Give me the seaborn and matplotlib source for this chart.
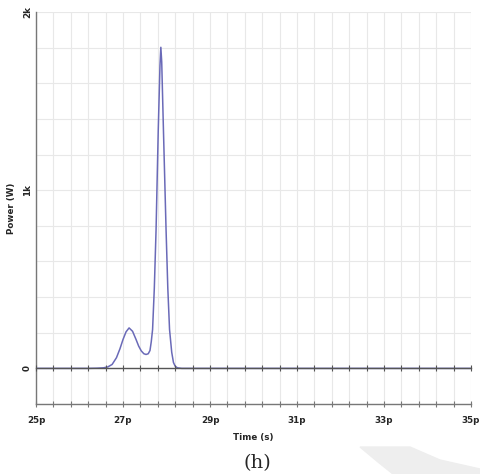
import matplotlib
matplotlib.use("Agg")
import matplotlib.pyplot as plt
import matplotlib.ticker as mticker
import matplotlib.transforms as mtransforms
from matplotlib.patches import Polygon
import numpy as np
import pandas as pd
import seaborn as sns

# pulse power trace (time in ps, power in W)
time_ps = [25.0, 26.2, 26.4, 26.55, 26.65, 26.75, 26.85, 26.93, 27.0, 27.07,
           27.14, 27.22, 27.30, 27.36, 27.42, 27.48, 27.53, 27.58, 27.62, 27.65,
           27.68, 27.72, 27.76, 27.81, 27.85, 27.87, 27.89, 27.93, 27.99, 28.03,
           28.07, 28.12, 28.16, 28.20, 28.25, 28.35, 35.0]
power_w = [0, 0, 1, 3, 8, 22, 60, 110, 162, 205,
           227, 208, 162, 125, 98, 82, 78, 82, 100, 150,
           218, 450, 777, 1335, 1700, 1802, 1720, 1335, 777, 450,
           218, 90, 33, 12, 3, 0, 0]

x_ticks = [25, 27, 29, 31, 33, 35]
x_ticklabels = ["25p", "27p", "29p", "31p", "33p", "35p"]
y_ticks = [0, 1000, 2000]
y_ticklabels = ["0", "1k", "2k"]

df = pd.DataFrame({"t": time_ps, "p": power_w})

sns.set_theme(style="white")
plt.rcParams["font.family"] = ["DejaVu Sans"]

fig = plt.figure(figsize=(4.8, 4.74), dpi=100)
ax = fig.add_axes([36 / 480, 70 / 474, 435 / 480, 392 / 474])

sns.lineplot(data=df, x="t", y="p", ax=ax, color="#6a6ab8", lw=1.1, zorder=4)

ax.set_xlim(25, 35)
ax.set_ylim(-200, 2000)

minor_x = mticker.FixedLocator(np.linspace(25, 35, 26))
ax.xaxis.set_major_locator(mticker.FixedLocator(x_ticks))
ax.xaxis.set_minor_locator(minor_x)
ax.yaxis.set_major_locator(mticker.FixedLocator(y_ticks))
ax.yaxis.set_minor_locator(mticker.MultipleLocator(200))
ax.set_xticklabels(x_ticklabels, fontsize=6.3, fontweight="bold")
ax.set_yticklabels(y_ticklabels, fontsize=6.3, fontweight="bold", rotation=90, va="center")

# nudge the last x label so it stays inside the figure
last = ax.get_xticklabels()[-1]
last.set_transform(last.get_transform() + mtransforms.ScaledTranslation(-4 / 100, 0, fig.dpi_scale_trans))

ax.grid(True, which="both", color="#e8e8e8", lw=0.8, zorder=0)
ax.set_axisbelow(True)

for side in ["top", "right"]:
    ax.spines[side].set_visible(False)
for side in ["left", "bottom"]:
    ax.spines[side].set_color("#777777")
    ax.spines[side].set_linewidth(1.0)

ax.tick_params(which="both", direction="inout", color="#777777", width=0.8)
ax.tick_params(which="major", length=5)
ax.tick_params(which="minor", length=4)
ax.tick_params(axis="x", which="major", pad=6)
ax.tick_params(axis="y", which="major", pad=0.5)

ax.set_xlabel("Time (s)", fontsize=6.3, fontweight="bold", labelpad=6)
ax.set_ylabel("Power (W)", fontsize=6.3, fontweight="bold", labelpad=5)

# zero line with its own tick marks
ax2 = ax.twiny()
ax2.set_xlim(ax.get_xlim())
for side in ["top", "right", "left"]:
    ax2.spines[side].set_visible(False)
ax2.spines["bottom"].set_position(("data", 0))
ax2.spines["bottom"].set_color("#555555")
ax2.spines["bottom"].set_linewidth(1.0)
ax2.xaxis.set_ticks_position("bottom")
ax2.xaxis.set_major_locator(minor_x)
ax2.tick_params(axis="x", direction="inout", length=4, width=0.8, color="#555555",
                labelbottom=False, labeltop=False)
ax2.grid(False)

fig.text(257 / 480, 1 - 463 / 474, "(h)", fontsize=14, family="DejaVu Serif",
         ha="center", va="center")

# light page artefact at the lower right
swoosh = Polygon([[360 / 480, 1 - 447 / 474], [410 / 480, 1 - 447 / 474],
                  [440 / 480, 1 - 460 / 474], [480 / 480, 1 - 469 / 474],
                  [480 / 480, 0], [393 / 480, 0], [378 / 480, 1 - 462 / 474]],
                 closed=True, transform=fig.transFigure, color="#eeeeee", zorder=-1)
fig.patches.append(swoosh)

fig.savefig("out.png", dpi=100)
